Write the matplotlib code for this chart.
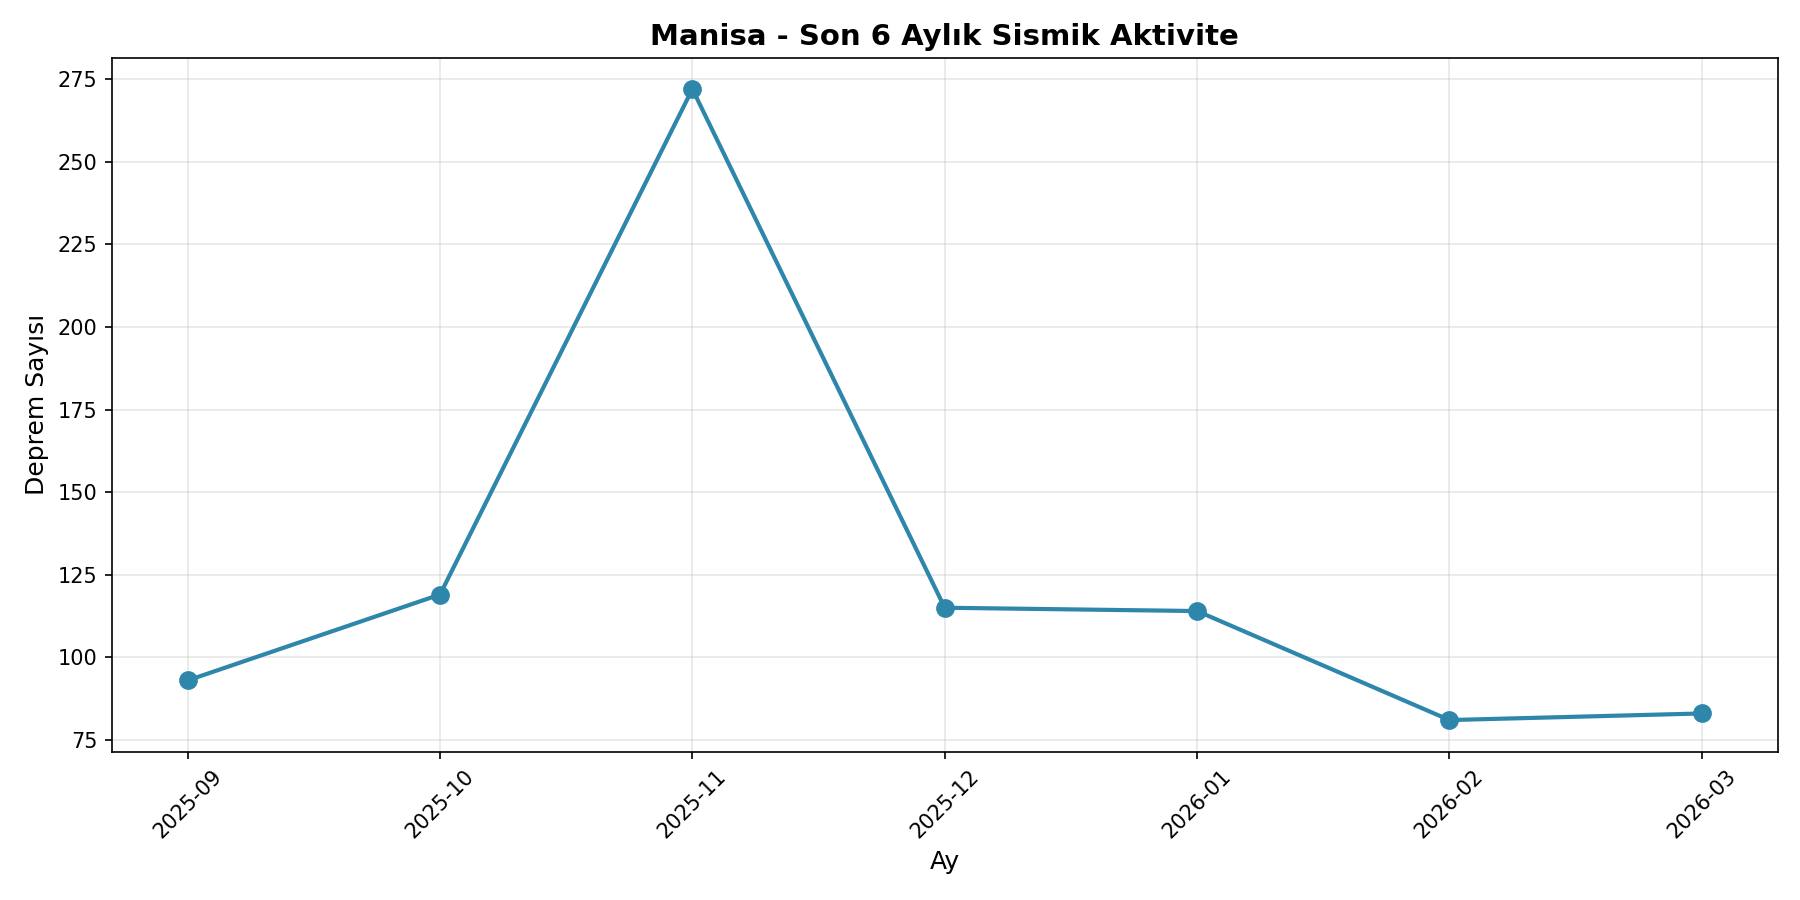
from matplotlib import pyplot as plt

months = ["2025-09", "2025-10", "2025-11", "2025-12", "2026-01", "2026-02", "2026-03"]
counts = [93, 119, 272, 115, 114, 81, 83]


def create_chart():
    fig, ax = plt.subplots(figsize=(12, 6))
    ax.plot(months, counts, marker="o", linewidth=2, markersize=8, color="#2E86AB")
    ax.set_title("Manisa - Son 6 Aylık Sismik Aktivite", fontsize=14, fontweight="bold")
    ax.set_xlabel("Ay", fontsize=12)
    ax.set_ylabel("Deprem Sayısı", fontsize=12)
    ax.grid(True, alpha=0.3)
    plt.xticks(rotation=45)
    plt.tight_layout()
    plt.savefig("out.png", dpi=150)


create_chart()
